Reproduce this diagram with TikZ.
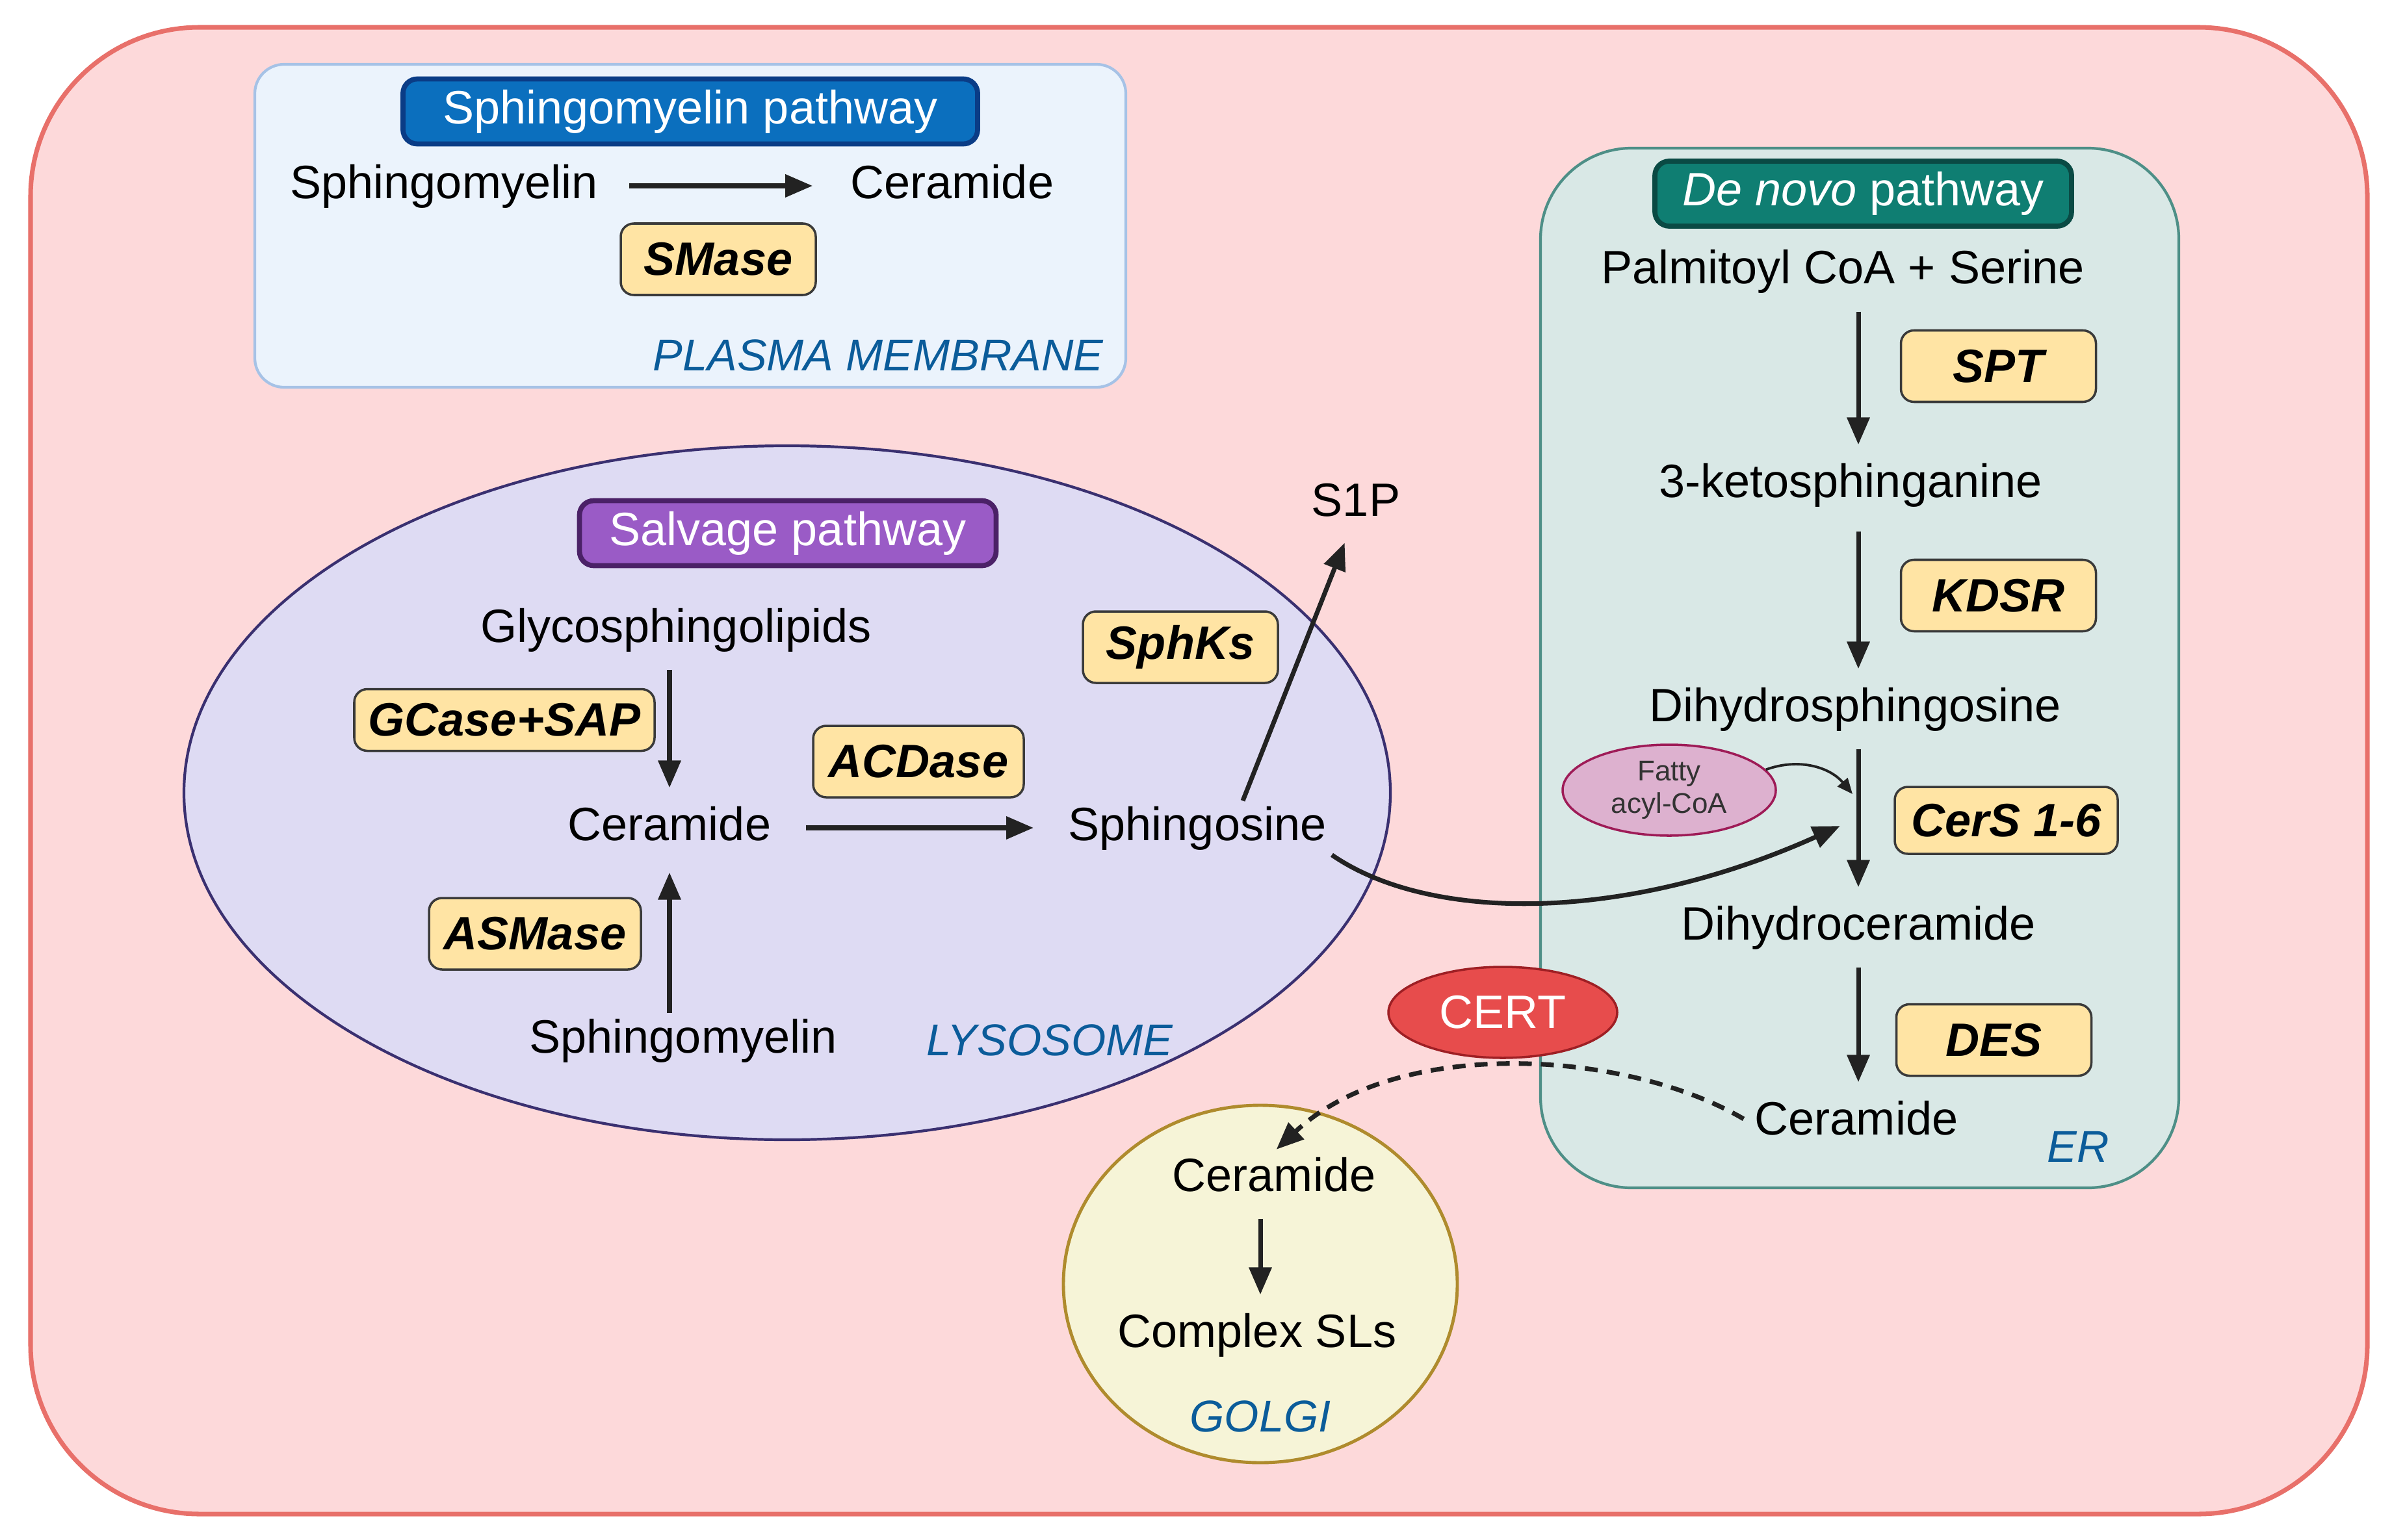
\documentclass[tikz,border=0pt]{standalone}
\usepackage{fontspec}
\setmainfont{Liberation Sans}
\usetikzlibrary{arrows.meta,positioning,shapes.geometric,calc}
\definecolor{cellfill}{HTML}{FDD9DA}
\definecolor{celldraw}{HTML}{E8706A}
\definecolor{pmfill}{HTML}{EBF3FC}
\definecolor{pmdraw}{HTML}{A6C2E6}
\definecolor{lysofill}{HTML}{DEDBF3}
\definecolor{lysodraw}{HTML}{3A3070}
\definecolor{erfill}{HTML}{D9E8E6}
\definecolor{erdraw}{HTML}{4E8F87}
\definecolor{golgifill}{HTML}{F6F4D7}
\definecolor{golgidraw}{HTML}{AF8B2D}
\definecolor{enzfill}{HTML}{FFE4A4}
\definecolor{enzdraw}{HTML}{3A3A3A}
\definecolor{smblue}{HTML}{0B6FBE}
\definecolor{smbluedark}{HTML}{0A3C86}
\definecolor{salvpurple}{HTML}{9A5BC6}
\definecolor{salvdark}{HTML}{4B2167}
\definecolor{dnteal}{HTML}{0F7E72}
\definecolor{dntealdark}{HTML}{0A4A44}
\definecolor{orglabel}{HTML}{0B5C9A}
\definecolor{certred}{HTML}{E74C4C}
\definecolor{certdraw}{HTML}{9E1F24}
\definecolor{fattyfill}{HTML}{DDB1CF}
\definecolor{fattydraw}{HTML}{9E1B57}
\definecolor{arrowgray}{HTML}{222222}
\tikzset{
metab/.style={font=\fontsize{20.5}{24}\selectfont,text height=0.52cm,text depth=0.14cm,inner sep=0.08cm},
enzyme/.style={draw=enzdraw,fill=enzfill,rounded corners=0.2cm,line width=1pt,minimum width=3cm,minimum height=1.1cm,font=\fontsize{20.5}{24}\selectfont\bfseries\itshape},
pathtitle/.style={rounded corners=0.22cm,line width=2.2pt,minimum height=1cm,text=white,font=\fontsize{20.5}{24}\selectfont},
organelle/.style={text=orglabel,font=\fontsize{19.5}{24}\selectfont\itshape},
carrier/.style={ellipse,line width=1pt,align=center,inner sep=0},
flow/.style={-{Triangle[length=4.2mm,width=3.4mm]},line width=2pt,draw=arrowgray,shorten <=2mm,shorten >=2mm},
thinflow/.style={-{Triangle[length=2.4mm,width=2mm]},line width=1.1pt,draw=arrowgray}
}
\begin{document}
\begin{tikzpicture}
\useasboundingbox (0,0) rectangle (36.8,-23.7);
% compartments
\draw[fill=cellfill,draw=celldraw,line width=2pt,rounded corners=2.6cm] (0.47,-0.42) rectangle (36.42,-23.30);
\draw[fill=pmfill,draw=pmdraw,line width=1.2pt,rounded corners=0.45cm] (3.92,-0.99) rectangle (17.32,-5.96);
\draw[fill=lysofill,draw=lysodraw,line width=1.2pt] (12.11,-12.20) ellipse [x radius=9.28,y radius=5.34];
\draw[fill=erfill,draw=erdraw,line width=1.2pt,rounded corners=1.4cm] (23.70,-2.28) rectangle (33.52,-18.28);
\draw[fill=golgifill,draw=golgidraw,line width=1.4pt] (19.39,-19.76) ellipse [x radius=3.03,y radius=2.75];

% plasma membrane
\node[pathtitle,fill=smblue,draw=smbluedark,minimum width=8.84cm] (smtitle) at (10.62,-1.715) {Sphingomyelin pathway};
\node[metab] (smpm) at (6.83,-2.86) {Sphingomyelin};
\node[metab] (cerpm) at (14.65,-2.86) {Ceramide};
\node[enzyme] (smase) at (11.05,-3.99) {SMase};
\node[organelle,anchor=east] (pmlabel) at (17.10,-5.47) {PLASMA MEMBRANE};
\draw[flow,shorten <=4mm,shorten >=5mm] (smpm.east) -- (cerpm.west);

% lysosome
\node[pathtitle,fill=salvpurple,draw=salvdark,minimum width=6.41cm] (salvtitle) at (12.12,-8.205) {Salvage pathway};
\node[metab] (glyco) at (10.40,-9.69) {Glycosphingolipids};
\node[metab] (cerly) at (10.30,-12.74) {Ceramide};
\node[metab] (smly) at (10.51,-16.01) {Sphingomyelin};
\node[metab] (sph) at (18.42,-12.74) {Sphingosine};
\node[metab] (s1p) at (20.86,-7.75) {S1P};
\node[enzyme,minimum width=4.62cm,minimum height=0.95cm] (gcase) at (7.76,-11.08) {GCase+SAP};
\node[enzyme,minimum width=3.24cm] (acdase) at (14.13,-11.72) {ACDase};
\node[enzyme] (sphk) at (18.16,-9.96) {SphKs};
\node[enzyme,minimum width=3.26cm] (asmase) at (8.23,-14.37) {ASMase};
\node[organelle] (lysolabel) at (16.15,-16.01) {LYSOSOME};
\draw[flow] (glyco.south -| cerly) -- (cerly.north);
\draw[flow,shorten <=0mm,shorten >=2.7mm] (smly.north -| cerly) -- (cerly.south);
\draw[flow,shorten <=4.5mm,shorten >=4.5mm] (cerly.east) -- (sph.west);
\draw[flow,shorten <=0mm] ([xshift=7mm]sph.north) -- ([xshift=-1mm]s1p.south);

% endoplasmic reticulum
\node[pathtitle,fill=dnteal,draw=dntealdark,minimum width=6.41cm] (dntitle) at (28.665,-2.98) {\textit{De novo} pathway};
\node[metab] (palm) at (28.35,-4.18) {Palmitoyl CoA + Serine};
\node[metab] (keto) at (28.47,-7.46) {3-ketosphinganine};
\node[metab] (dhs) at (28.54,-10.91) {Dihydrosphingosine};
\node[metab] (dhc) at (28.59,-14.27) {Dihydroceramide};
\node[metab] (cerer) at (28.56,-17.27) {Ceramide};
\node[enzyme] (spt) at (30.745,-5.635) {SPT};
\node[enzyme] (kdsr) at (30.745,-9.165) {KDSR};
\node[enzyme,minimum width=3.43cm,minimum height=1.03cm] (cers) at (30.865,-12.625) {CerS 1-6};
\node[enzyme] (des) at (30.675,-16.005) {DES};
\node[organelle] (erlabel) at (31.97,-17.65) {ER};
\node[carrier,draw=fattydraw,fill=fattyfill,minimum width=3.28cm,minimum height=1.4cm,text=black!80,font=\fontsize{12.5}{14}\selectfont] (fatty) at (25.68,-12.16) {Fatty\\acyl-CoA};
\draw[flow] (palm.south -| dhc) -- (keto.north -| dhc);
\draw[flow,shorten <=3mm] (keto.south -| dhc) -- (dhs.north -| dhc);
\draw[flow] (dhs.south -| dhc) -- (dhc.north);
\draw[flow] (dhc.south) -- (cerer.north -| dhc);
\coordinate (cersjoin) at (28.50,-12.22);
\coordinate (cersin) at (28.40,-12.67);
\draw[thinflow] (fatty.12) to[out=20,in=130] (cersjoin);

% golgi
\node[metab] (cergo) at (19.60,-18.14) {Ceramide};
\node[metab] (csl) at (19.34,-20.54) {Complex SLs};
\node[organelle] (golgilabel) at (19.39,-21.80) {GOLGI};
\draw[flow] (cergo.south -| golgilabel) -- (csl.north -| golgilabel);

% transport
\node[carrier,draw=certdraw,fill=certred,minimum width=3.52cm,minimum height=1.4cm,text=white,font=\fontsize{20.5}{24}\selectfont] (cert) at (23.12,-15.58) {CERT};
\draw[flow,shorten <=0mm,shorten >=1mm] (sph.south east) .. controls (22.0,-14.2) and (25.0,-14.2) .. (cersin);
\draw[flow,dash pattern=on 2mm off 1.4mm,shorten <=1mm,shorten >=0.5mm] (cerer.west) .. controls (25.0,-16.15) and (21.5,-15.95) .. (cergo.north);
\end{tikzpicture}
\end{document}
